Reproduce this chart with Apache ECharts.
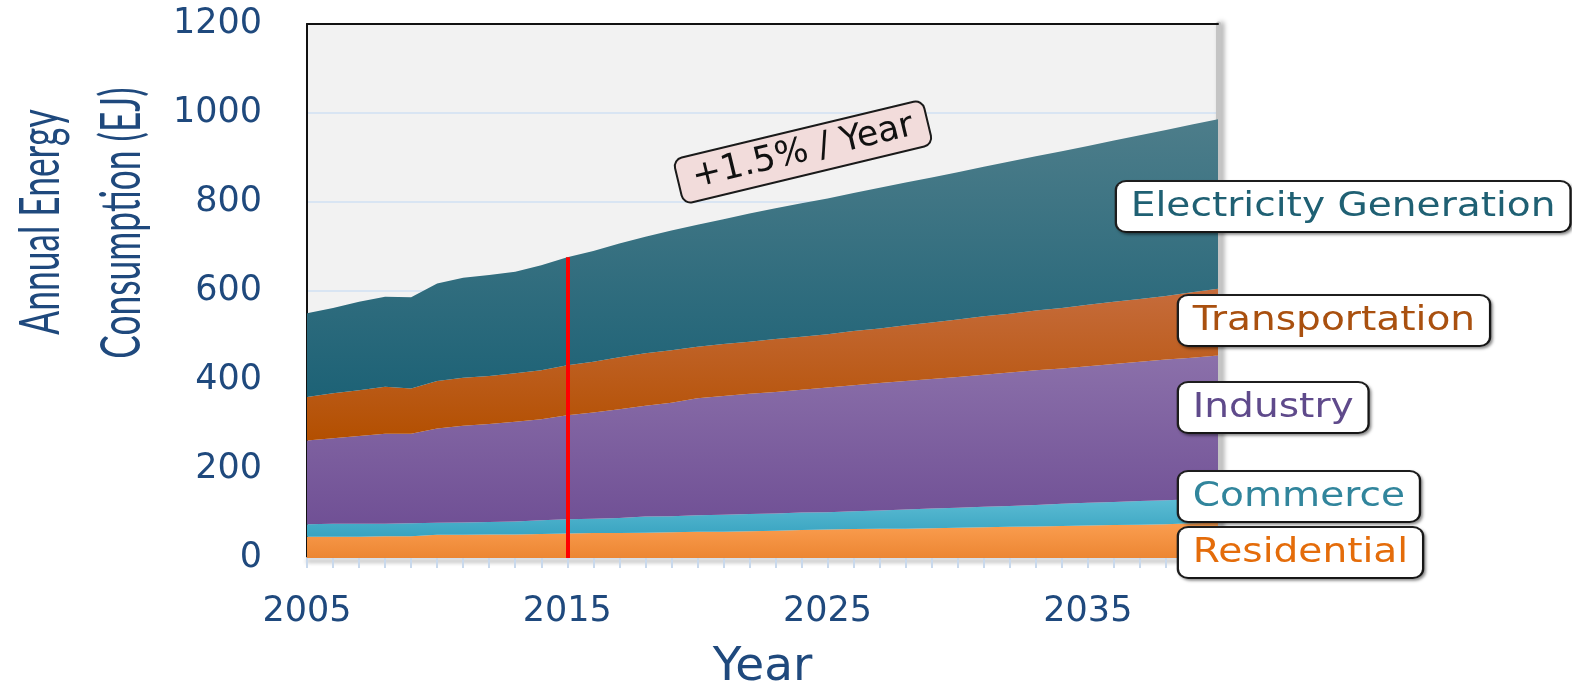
<!DOCTYPE html>
<html>
<head>
<meta charset="utf-8">
<script src="https://cdn.jsdelivr.net/npm/echarts@6.0.0/dist/echarts.min.js"></script>
<style>
  html, body { margin: 0; padding: 0; background: #fff; }
  #chart { width: 1572px; height: 689px; }
</style>
</head>
<body>
<div id="chart"></div>
<script>
// years on the x axis
const years = ['2005','2006','2007','2008','2009','2010','2011','2012','2013','2014',
  '2015','2016','2017','2018','2019','2020','2021','2022','2023','2024',
  '2025','2026','2027','2028','2029','2030','2031','2032','2033','2034',
  '2035','2036','2037','2038','2039','2040'];

// annual consumption per sector (EJ)
const residential = [48,48,48,49,49,52,52,53,53,54,55,56,56,57,58,59,59,60,61,63,
  64,65,66,66,67,68,69,70,71,72,73,74,75,76,78,79];
const commerce = [28,29,29,28,29,27,28,28,29,31,32,32,34,36,36,37,38,39,39,39,
  39,40,41,43,44,45,46,47,48,50,51,52,53,54,54,54];
const industry = [188,192,197,202,201,212,217,220,224,227,234,239,244,249,255,263,267,270,273,276,
  280,283,286,289,291,294,297,300,303,304,307,310,313,316,318,322];
const transportation = [98,101,103,106,102,107,108,108,109,110,112,114,117,118,118,116,117,117,119,119,
  120,122,123,125,127,129,131,132,134,136,138,140,141,143,147,150];
const electricity = [188,192,199,202,205,219,225,227,228,236,243,249,256,262,269,274,280,288,294,300,
  305,310,316,321,326,331,336,342,347,352,357,362,368,373,377,381];

const yTicks = [0, 200, 400, 600, 800, 1000, 1200];
const markYear = '2015';

const txtBlue = '#1f497d';
const fontMain = 'DejaVu Sans';

const grad = (top, bottom) => new echarts.graphic.LinearGradient(0, 0, 0, 1, [
  { offset: 0, color: top },
  { offset: 1, color: bottom }
]);

const seriesConfig = {
  type: 'line',
  stack: 'total',
  symbol: 'none',
  showSymbol: false,
  lineStyle: { width: 0 },
  emphasis: { disabled: true },
  silent: true
};

const mi = years.indexOf(markYear);
const totalAtMark = residential[mi] + commerce[mi] + industry[mi] + transportation[mi] + electricity[mi];

const sectors = [
  { name: 'Residential', data: residential, color: ['#fb9e50', '#ec8633'] },
  { name: 'Commerce', data: commerce, color: ['#5cbcd4', '#38a3c0'] },
  { name: 'Industry', data: industry, color: ['#8b70aa', '#705095'] },
  { name: 'Transportation', data: transportation, color: ['#c66c3c', '#b34f00'] },
  { name: 'Electricity Generation', data: electricity, color: ['#4d7d8a', '#1d6276'] }
];

const series = sectors.map((s, i) => {
  const item = {
    ...seriesConfig,
    name: s.name,
    data: s.data,
    areaStyle: { opacity: 1, color: grad(s.color[0], s.color[1]) }
  };
  if (i === sectors.length - 1) {
    item.markLine = {
      silent: true,
      symbol: 'none',
      label: { show: false },
      lineStyle: { color: '#ff0000', width: 4, type: 'solid' },
      data: [[{ coord: [markYear, 0] }, { coord: [markYear, totalAtMark] }]]
    };
  }
  return item;
});

// label boxes on the right
const boxLabel = (text, x, y, color) => ({
  type: 'text',
  x: x,
  y: y,
  scaleX: 1.15,
  z: 100,
  style: {
    text: text,
    font: '34px "' + fontMain + '"',
    fill: color,
    lineHeight: 42,
    padding: [4, 12, 3, 12],
    backgroundColor: '#ffffff',
    borderColor: '#1e1e1e',
    borderWidth: 2,
    borderRadius: 8,
    shadowColor: 'rgba(0,0,0,0.35)',
    shadowBlur: 3,
    shadowOffsetX: 2,
    shadowOffsetY: 2
  }
});

const option = {
  backgroundColor: '#ffffff',
  animation: false,
  grid: {
    left: 307,
    right: 354,
    top: 24,
    bottom: 131,
    outerBoundsMode: 'none',
    containLabel: false,
    show: true,
    backgroundColor: '#f2f2f2',
    borderWidth: 0
  },
  xAxis: [{
    type: 'category',
    data: years,
    boundaryGap: false,
    name: 'Year',
    nameLocation: 'middle',
    nameGap: 86,
    nameTextStyle: { fontFamily: fontMain, fontSize: 47, color: txtBlue },
    axisLine: {
      show: true,
      lineStyle: { color: '#d6dfea', width: 2, shadowColor: 'rgba(0,0,0,0.45)', shadowBlur: 4, shadowOffsetY: 3 }
    },
    axisTick: { show: true, interval: 0, length: 10, lineStyle: { color: '#c9d9ec', width: 2 } },
    axisLabel: {
      interval: (index) => index % 10 === 0,
      margin: 36,
      fontFamily: fontMain,
      fontSize: 35,
      color: txtBlue
    },
    splitLine: { show: false }
  }, {
    type: 'category',
    data: years,
    boundaryGap: false,
    position: 'top',
    axisLine: { show: true, onZero: false, lineStyle: { color: '#111', width: 2 } },
    axisTick: { show: false },
    axisLabel: { show: false },
    splitLine: { show: false }
  }],
  yAxis: [{
    type: 'value',
    min: yTicks[0],
    max: yTicks[yTicks.length - 1],
    interval: 200,
    axisLine: { show: true, onZero: false, lineStyle: { color: '#111', width: 2 } },
    axisTick: { show: false },
    axisLabel: {
      margin: 45,
      fontFamily: fontMain,
      fontSize: 35,
      color: txtBlue,
      formatter: (v) => String(v)
    },
    splitLine: { show: true, lineStyle: { color: '#d9e5f3', width: 2 } }
  }, {
    type: 'value',
    min: yTicks[0],
    max: yTicks[yTicks.length - 1],
    interval: 200,
    position: 'right',
    axisLine: {
      show: true,
      onZero: false,
      lineStyle: { color: '#c4c4c4', width: 5, shadowColor: 'rgba(0,0,0,0.35)', shadowBlur: 5, shadowOffsetX: 3 }
    },
    axisTick: { show: false },
    axisLabel: { show: false },
    splitLine: { show: false }
  }],
  series: series,
  graphic: [
    // y axis title, two lines, condensed
    {
      type: 'text',
      x: 41,
      y: 222,
      rotation: Math.PI / 2,
      scaleX: 0.62,
      style: {
        text: 'Annual Energy',
        font: '57px Lato',
        fill: txtBlue,
        align: 'center',
        verticalAlign: 'middle'
      }
    },
    {
      type: 'text',
      x: 122,
      y: 223,
      rotation: Math.PI / 2,
      scaleX: 0.62,
      style: {
        text: 'Consumption (EJ)',
        font: '57px Lato',
        fill: txtBlue,
        align: 'center',
        verticalAlign: 'middle'
      }
    },
    // growth annotation
    {
      type: 'text',
      x: 803,
      y: 152,
      rotation: 13.5 * Math.PI / 180,
      z: 100,
      style: {
        text: '+1.5% / Year',
        font: '35px "' + fontMain + '"',
        fill: '#111111',
        align: 'center',
        verticalAlign: 'middle',
        lineHeight: 38,
        padding: [3, 14, 3, 14],
        backgroundColor: '#f2dcdb',
        borderColor: '#1a1a1a',
        borderWidth: 2,
        borderRadius: 8
      }
    },
    boxLabel('Electricity Generation', 1117, 182, '#1f6073'),
    boxLabel('Transportation', 1179, 296, '#a9500f'),
    boxLabel('Industry', 1179, 383, '#5f4a8b'),
    boxLabel('Commerce', 1179, 472, '#31859c'),
    boxLabel('Residential', 1179, 528, '#e46c0a')
  ]
};

const chart = echarts.init(document.getElementById('chart'));
chart.setOption(option);
window.onresize = () => {
  chart.resize();
};
</script>
</body>
</html>
